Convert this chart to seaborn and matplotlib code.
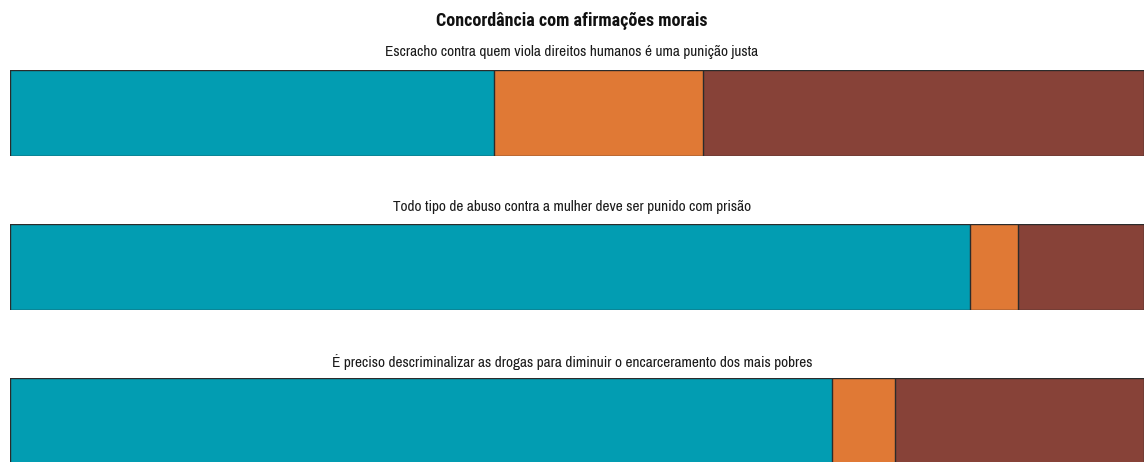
import matplotlib
matplotlib.use("Agg")
import matplotlib.pyplot as plt
import seaborn as sns
import numpy as np
import pandas as pd

sns.set_theme(style="white")
plt.rcParams['font.family'] = ['Archivo Narrow', 'DejaVu Sans']

title = "Concordância com afirmações morais"
statements = [
    "Escracho contra quem viola direitos humanos é uma punição justa",
    "Todo tipo de abuso contra a mulher deve ser punido com prisão",
    "É preciso descriminalizar as drogas para diminuir o encarceramento dos mais pobres",
]
categories = ["Concorda", "Neutro", "Discorda"]
concorda = [42.7, 84.6, 72.5]
neutro = [18.4, 4.3, 5.5]
discorda = [38.9, 11.1, 22.0]
colors = ["#029db2", "#e07935", "#874238"]

W, H = 1144, 462
fig = plt.figure(figsize=(W / 100, H / 100), dpi=100)

# axes positions in pixels: (left, top, right, bottom)
boxes = [(10, 70, 1150, 156), (10, 224, 1150, 310), (10, 378, 1150, 466)]
title_y = [52, 207, 362]

for i, stmt in enumerate(statements):
    l, t, r, b = boxes[i]
    ax = fig.add_axes([l / W, 1 - b / H, (r - l) / W, (b - t) / H])
    vals = np.array([concorda[i], neutro[i], discorda[i]])
    cum = np.cumsum(vals)
    # draw back to front so each segment shows
    for j in range(len(categories) - 1, -1, -1):
        df = pd.DataFrame({"stmt": [stmt], "v": [cum[j]]})
        sns.barplot(data=df, x="v", y="stmt", orient="h", color=colors[j],
                    saturation=1, width=1.0, edgecolor="#2b2b2b", linewidth=1.0,
                    ax=ax)
    ax.set_xlim(0, 100.5)
    ax.set_ylim(0.5, -0.5)
    ax.axis("off")
    fig.text(0.5, 1 - title_y[i] / H, stmt, ha="center", va="center",
             fontsize=11, color="#1a1a1a")

fig.text(0.5, 1 - 21 / H, title, ha="center", va="center", fontsize=13,
         fontweight="bold", color="#111111",
         family=["Roboto Condensed", "Archivo Narrow", "DejaVu Sans"])

fig.savefig("out.png", dpi=100)
